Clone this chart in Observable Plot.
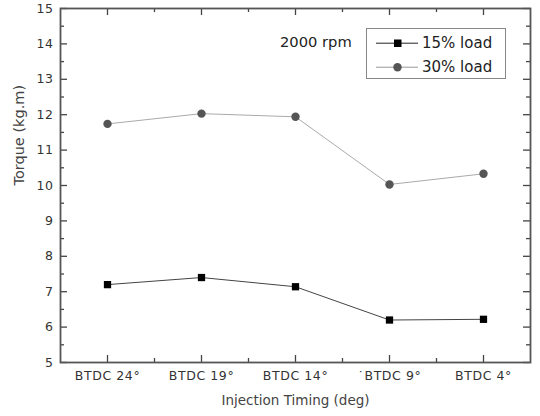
<!DOCTYPE html>
<html><head><meta charset="utf-8">
<script src="https://cdn.jsdelivr.net/npm/d3@7"></script>
<script src="https://cdn.jsdelivr.net/npm/@observablehq/plot@0.6"></script>
<style>
body{margin:0;background:#fff;font-family:"DejaVu Sans",sans-serif;}
#wrap{position:relative;width:540px;height:416px;}
#legend{position:absolute;left:366px;top:28px;width:140px;height:51px;border:1px solid #888;background:#fff;box-sizing:border-box;}
#note{position:absolute;left:280px;top:33px;font-size:14.7px;color:#222;line-height:18px;}
</style></head>
<body><div id="wrap"></div>
<script>
const categories = ["BTDC 24°", "BTDC 19°", "BTDC 14°", "\u02D9BTDC 9°", "BTDC 4°"];
const load15 = [7.2, 7.4, 7.14, 6.2, 6.22];
const load30 = [11.74, 12.03, 11.94, 10.03, 10.33];
const seriesNames = ["15% load", "30% load"];
const yTicks = [5, 6, 7, 8, 9, 10, 11, 12, 13, 14, 15];
const yMinor = [5.5, 6.5, 7.5, 8.5, 9.5, 10.5, 11.5, 12.5, 13.5, 14.5];
const xMinor = [0.5, 1.5, 2.5, 3.5];

const d15 = categories.map((c, i) => ({i, v: load15[i]}));
const d30 = categories.map((c, i) => ({i, v: load30[i]}));
const idx = categories.map((c, i) => i);

const W = 540, H = 416, ML = 60, MR = 10, MT = 8, MB = 54;
const innerW = W - ML - MR, innerH = H - MT - MB;

const chart = Plot.plot({
  width: W, height: H,
  marginLeft: ML, marginRight: MR, marginTop: MT, marginBottom: MB,
  style: {fontFamily: '"DejaVu Sans", sans-serif', background: "#fff"},
  x: {type: "linear", domain: [-0.5, categories.length - 0.5]},
  y: {domain: [5, 15]},
  marks: [
    Plot.ruleY(yTicks, {y: d => d, insetRight: innerW - 7, stroke: "#444", strokeWidth: 1.3}),
    Plot.ruleY(yTicks, {y: d => d, insetLeft: innerW - 7, stroke: "#444", strokeWidth: 1.3}),
    Plot.ruleY(yMinor, {y: d => d, insetRight: innerW - 4, stroke: "#444", strokeWidth: 1.3}),
    Plot.ruleY(yMinor, {y: d => d, insetLeft: innerW - 4, stroke: "#444", strokeWidth: 1.3}),
    Plot.ruleX(idx, {x: d => d, insetTop: innerH - 7, stroke: "#444", strokeWidth: 1.3}),
    Plot.ruleX(idx, {x: d => d, insetBottom: innerH - 7, stroke: "#444", strokeWidth: 1.3}),
    Plot.ruleX(xMinor, {x: d => d, insetTop: innerH - 4, stroke: "#444", strokeWidth: 1.3}),
    Plot.ruleX(xMinor, {x: d => d, insetBottom: innerH - 4, stroke: "#444", strokeWidth: 1.3}),
    Plot.frame({stroke: "#555", strokeWidth: 1.8}),
    Plot.axisY({ticks: yTicks, tickSize: 0, tickPadding: 7, fontSize: 12.5, color: "#333", label: null}),
    Plot.axisX({ticks: idx, tickSize: 0, tickPadding: 9, fontSize: 12.5, color: "#333",
      tickFormat: i => categories[i], label: null}),
    Plot.text(["Torque (kg.m)"], {frameAnchor: "left", dx: -41, rotate: -90, fontSize: 14.5, fill: "#444"}),
    Plot.text(["Injection Timing (deg)"], {frameAnchor: "bottom", dy: 42, fontSize: 13.5, fill: "#444"}),
    Plot.line(d15, {x: "i", y: "v", stroke: "#444", strokeWidth: 1}),
    Plot.dot(d15, {x: "i", y: "v", symbol: "square", r: 4.1, fill: "#000", stroke: "none"}),
    Plot.line(d30, {x: "i", y: "v", stroke: "#aaa", strokeWidth: 1}),
    Plot.dot(d30, {x: "i", y: "v", symbol: "circle", r: 4.2, fill: "#555", stroke: "none"})
  ]
});
chart.querySelectorAll("[aria-label='x-axis tick label'] text, [aria-label='y-axis tick label'] text")
  .forEach(e => e.style.letterSpacing = "0.6px");
const wrap = document.getElementById("wrap");
wrap.appendChild(chart);

const note = document.createElement("div");
note.id = "note"; note.textContent = "2000 rpm";
wrap.appendChild(note);

const leg = document.createElement("div");
leg.id = "legend";
const styles = [{stroke: "#222", fill: "#000", sym: "square"}, {stroke: "#999", fill: "#555", sym: "circle"}];
leg.innerHTML = seriesNames.map((n, k) => {
  const s = styles[k];
  const m = s.sym === "square"
    ? `<rect x="18" y="2.5" width="7.5" height="7.5" fill="${s.fill}"/>`
    : `<circle cx="21.5" cy="6.2" r="4.2" fill="${s.fill}"/>`;
  return `<div style="display:flex;align-items:center;height:24px;margin-top:${k === 0 ? 2 : 0}px;">
    <svg width="46" height="12" style="margin-left:9px"><line x1="0" x2="42" y1="6.2" y2="6.2" stroke="${s.stroke}" stroke-width="1"/>${m}</svg>
    <span style="font-size:15px;color:#222;margin-left:0px">${n}</span></div>`;
}).join("");
wrap.appendChild(leg);
</script></body></html>
